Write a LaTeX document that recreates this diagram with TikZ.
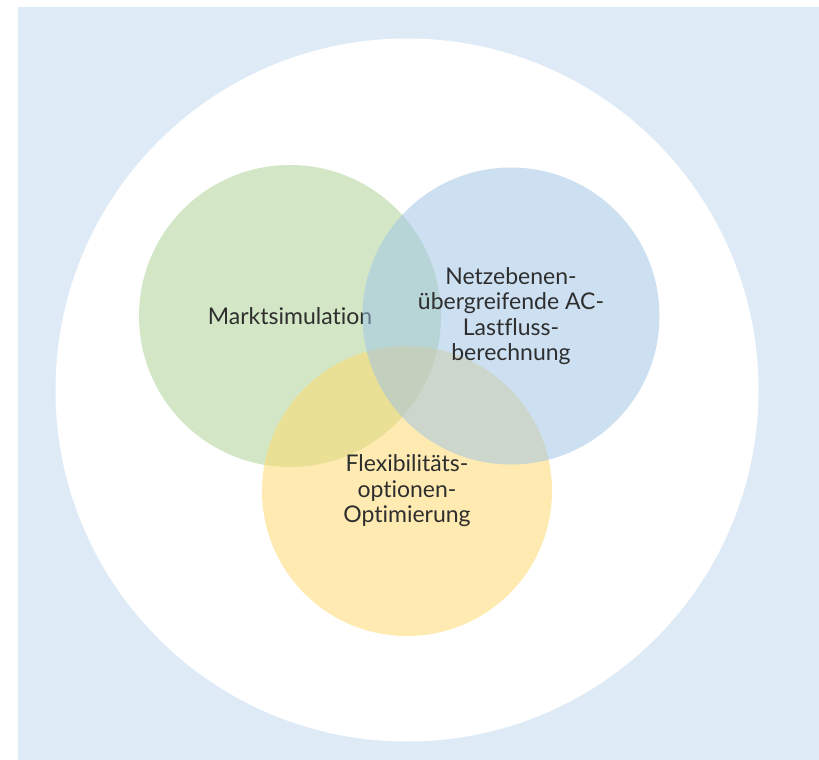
\documentclass[tikz,border=0pt]{standalone}
\usepackage{fontspec}
\setmainfont{Lato}[Ligatures=NoCommon]
\usepackage{tikz}
\usepackage{xcolor}
\definecolor{bgblue}{HTML}{DEEBF7}
\definecolor{mgreen}{HTML}{A9D08E}
\definecolor{mblue}{HTML}{9DC3E6}
\definecolor{myellow}{HTML}{FFD966}
\definecolor{txtgray}{HTML}{2E2E2E}
\tikzset{
  field/.style={circle, fill opacity=.5, text opacity=1, inner sep=0pt, outer sep=0pt,
    align=center, text=txtgray, font=\fontsize{23}{25.5}\selectfont}
}

\begin{document}
\begin{tikzpicture}[x=1pt,y=-1pt]
\useasboundingbox (0,0) rectangle (819,760);
\fill[bgblue] (18,7) rectangle (819,760);
\node[circle,fill=white,minimum size=703pt,inner sep=0pt] (outer) at (407,390) {};
\node[field,fill=mgreen,minimum size=302pt] (markt) at (290,316) {Marktsimulation};
\node[field,fill=myellow,minimum size=290pt] (flex) at (407,491) {Flexibilitäts-\\optionen-\\Optimierung};
\node[field,fill=mblue,minimum size=297pt] (netz) at (511,316) {Netzebenen-\\übergreifende AC-\\Lastfluss-\\berechnung};
\end{tikzpicture}
\end{document}
